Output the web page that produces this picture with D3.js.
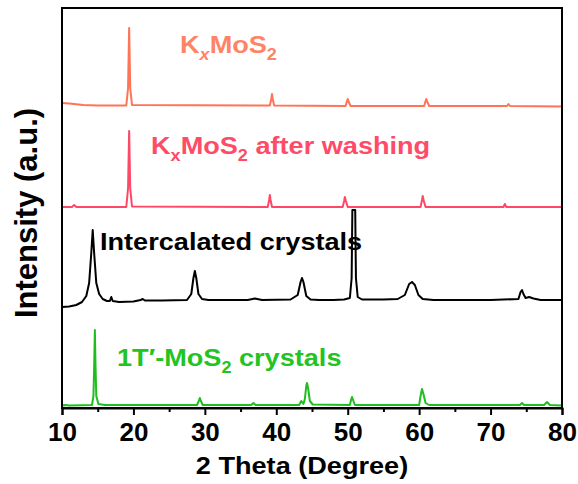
<!DOCTYPE html>
<html><head><meta charset="utf-8">
<script src="https://cdn.jsdelivr.net/npm/d3@7"></script>
<style>body{margin:0;background:#fff}text{font-family:"Liberation Sans",Arial,sans-serif;font-weight:bold}</style>
</head><body><svg id="c" width="578" height="484"></svg>
<script>
// ---- data ----
const xTicks = [10, 20, 30, 40, 50, 60, 70, 80];
const xMinorTicks = [15, 25, 35, 45, 55, 65, 75];
const xDomain = [10, 80];
const yDomain = [0, 400];
const xTitle = "2 Theta (Degree)";
const yTitle = "Intensity (a.u.)";

const greenOffset = 0, blackOffset = 100, pinkOffset = 200, orangeOffset = 300;

const greenData = [[10,2.5],[10.5,3],[11,2.5],[14.2,3],[14.4,12],[14.5,40],[14.6,78],[14.7,40],[14.8,12],[15.1,4],[16,3],[25,3],[28.9,3],[29.15,7],[29.3,10],[29.45,7],[29.7,3],[36.5,3],[36.8,5],[37.1,3],[43.2,3],[43.5,7],[43.8,4],[44.0,9],[44.2,22],[44.3,25],[44.45,20],[44.7,7],[45.1,3.5],[50.3,3],[50.5,9],[50.6,11],[50.75,8],[51,3],[60,3],[60.2,12],[60.4,19],[60.6,14],[60.9,5],[61.4,3],[74.1,3],[74.4,5],[74.7,3],[77.5,3],[77.9,6],[78.3,3],[80,2.5]];

const blackData = [[10,1],[11,1.5],[12,3],[12.8,6],[13.4,12],[13.8,25],[14.1,55],[14.3,78],[14.5,55],[14.8,25],[15.2,14],[15.7,9],[16.3,7],[16.7,7],[16.9,11],[17.1,7],[18,6],[20,6.5],[21,8],[21.3,9],[21.6,7.5],[24,7.5],[27.5,8],[28.1,14],[28.4,30],[28.6,37],[28.8,30],[29.1,14],[29.6,9],[30.5,8],[36,8],[37,9.5],[38,8],[42,8.5],[43,13],[43.4,26],[43.6,30],[43.8,26],[44.2,12],[44.8,8.5],[46,8],[48,8],[49.5,8.5],[50.3,10],[50.55,30],[50.65,98],[51.05,98],[51.15,30],[51.4,11],[52,8.5],[55,8.5],[57,9],[58,13],[58.6,24],[59,26],[59.4,23],[59.9,13],[60.5,9],[62,8],[70,8],[73.9,9],[74.2,16],[74.4,18],[74.6,14],[74.9,10],[75.4,11],[76,9.5],[77,8],[80,8]];

const pinkData = [[10,1],[11.4,1],[11.7,3],[12,1],[19.0,1],[19.25,20],[19.4,77],[19.55,20],[19.8,1.5],[38.8,1],[39.0,8],[39.1,13],[39.2,8],[39.4,1],[49.3,1],[49.5,7],[49.6,11],[49.75,7],[50,1],[60.2,1],[60.4,8],[60.5,12],[60.65,7],[60.9,1],[71.8,1],[72.0,4],[72.2,1],[80,1]];

const orangeData = [[10,5],[11,4.5],[13,3],[15,2.5],[19.0,2.5],[19.25,20],[19.4,80],[19.55,20],[19.8,3],[39.1,2.5],[39.3,9],[39.4,14],[39.5,9],[39.7,2.5],[49.7,2],[49.9,7],[50.0,9],[50.15,6],[50.4,2],[60.7,2],[60.9,7],[61.0,9],[61.15,6],[61.4,2],[72.3,2],[72.5,4],[72.7,2],[80,1.5]];

// label text pieces: [text, kind] kind: n=normal, s=subscript, si=italic subscript
const orangeLabel = [["K","n"],["x","si"],["MoS","n"],["2","s"]];
const pinkLabel = [["K","n"],["x","s"],["MoS","n"],["2","s"],[" after washing","n"]];
const blackLabel = [["Intercalated crystals","n"]];
const greenLabel = [["1T′-MoS","n"],["2","s"],[" crystals","n"]];

// ---- chart ----
const svg = d3.select("#c");
const L = 62, R = 562, T = 8, B = 408;
const SX = 1.13; // horizontal stretch of the reference lettering
const x = d3.scaleLinear().domain(xDomain).range([L, R]);
const y = d3.scaleLinear().domain(yDomain).range([B, T]);

const series = [
  {data: greenData, off: greenOffset, color: "#1EBE1E", tcolor: "#22C422", label: greenLabel, lx: 117, ly: 366},
  {data: blackData, off: blackOffset, color: "#000000", tcolor: "#000000", label: blackLabel, lx: 100, ly: 250},
  {data: pinkData, off: pinkOffset, color: "#FF4868", tcolor: "#FF4A68", label: pinkLabel, lx: 151, ly: 154},
  {data: orangeData, off: orangeOffset, color: "#FF7356", tcolor: "#FF8466", label: orangeLabel, lx: 180, ly: 53}
];

const line = d3.line().x(d => x(d[0])).y(d => y(d[1]));
series.forEach(s => {
  svg.append("path")
    .datum(s.data.map(d => [d[0], d[1] + s.off]))
    .attr("d", line)
    .attr("fill", "none")
    .attr("stroke", s.color)
    .attr("stroke-width", 2)
    .attr("stroke-linejoin", "round");
});

// labels
series.forEach(s => {
  const t = svg.append("text").attr("transform", `translate(${s.lx},${s.ly}) scale(${SX},1)`)
    .attr("fill", s.tcolor).style("font-size", "24px");
  let shifted = false;
  s.label.forEach(p => {
    const ts = t.append("tspan").text(p[0]);
    if (p[1] === "s" || p[1] === "si") {
      ts.style("font-size", "16px").attr("dy", shifted ? 0 : 7);
      if (p[1] === "si") ts.style("font-style", "italic");
      shifted = true;
    } else {
      if (shifted) ts.attr("dy", -7);
      shifted = false;
    }
  });
});

// frame
svg.append("rect").attr("x", L).attr("y", T).attr("width", R - L).attr("height", B - T)
  .attr("fill", "none").attr("stroke", "#000").attr("stroke-width", 2);

// x axis
const xAxis = d3.axisBottom(x).tickValues(xTicks).tickSize(7).tickPadding(8).tickFormat(d3.format("d"));
const gx = svg.append("g").attr("transform", `translate(0,${B})`).call(xAxis);
gx.select(".domain").attr("stroke-width", 2);
gx.selectAll(".tick line").attr("stroke-width", 2);
gx.selectAll(".tick text").style("font-size", "26px").attr("fill", "#000")
  .style("font-family", '"Liberation Sans",Arial,sans-serif').style("font-weight", "bold");
const gxm = svg.append("g").attr("transform", `translate(0,${B})`)
  .call(d3.axisBottom(x).tickValues(xMinorTicks).tickSize(4).tickFormat(""));
gxm.select(".domain").remove();
gxm.selectAll(".tick line").attr("stroke-width", 2);

// titles
svg.append("text").attr("transform", `translate(${(L + R) / 2 - 10},474) scale(${SX},1)`).attr("text-anchor", "middle")
  .style("font-size", "24px").attr("fill", "#000").text(xTitle);
svg.append("text").attr("transform", "translate(37,213) rotate(-90)").attr("text-anchor", "middle")
  .style("font-size", "31px").attr("fill", "#000").text(yTitle);
</script>
</body></html>
